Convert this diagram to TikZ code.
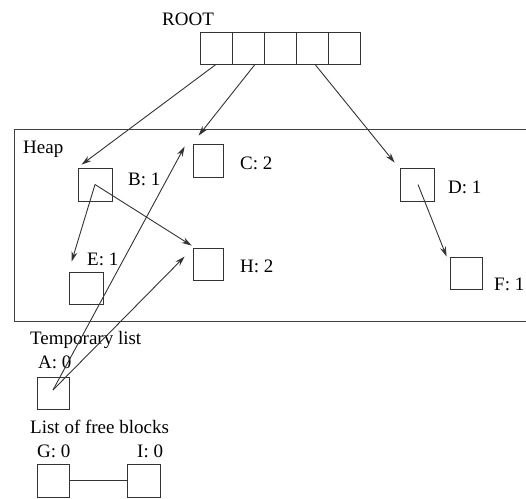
\documentclass[tikz,border=0pt]{standalone}
\usepackage{fontspec}
\setmainfont{Liberation Serif}
\usetikzlibrary{calc,arrows.meta}
\begin{document}
\begin{tikzpicture}[x=1pt,y=-1pt,
  cell/.style={draw=black!80,line width=0.8pt,minimum width=32pt,minimum height=32pt,inner sep=0pt,anchor=center},
  lbl/.style={anchor=base west,inner sep=0pt,font=\fontsize{19}{21}\selectfont},
  ptr/.style={draw=black!80,line width=0.9pt,-{Stealth[length=10pt,width=6pt]}},
  frame/.style={draw=black!75,line width=0.9pt}]
\useasboundingbox (0,0) rectangle (526,498);
% root array
\foreach \i/\x in {1/216,2/248,3/280,4/312,5/344}{
  \node[cell] (r\i) at (\x,48) {};
}
\node[lbl] (rootlbl) at (162,25) {ROOT};
% heap frame
\coordinate (h1) at (526,129);
\coordinate (h2) at (14,129);
\coordinate (h3) at (14,321);
\coordinate (h4) at (526,321);
\draw[frame] (h1) -- (h2) -- (h3) -- (h4);
\node[lbl] (heaplbl) at (23,153) {Heap};
% heap blocks
\node[cell,minimum width=34pt,minimum height=33pt] (B) at (95,184.5) {};
\node[cell,minimum width=30pt,minimum height=33pt] (C) at (208,160.5) {};
\node[cell,minimum width=34pt] (E) at (86,288) {};
\node[cell,minimum width=30pt] (H) at (208,264) {};
\node[cell,minimum width=34pt,minimum height=33pt] (D) at (417,184.5) {};
\node[cell] (F) at (466,273) {};
\node[lbl] (Bl) at (128,185) {B: 1};
\node[lbl] (Cl) at (240,169) {C: 2};
\node[lbl] (El) at (87,265) {E: 1};
\node[lbl] (Hl) at (240,272) {H: 2};
\node[lbl] (Dl) at (448,193) {D: 1};
\node[lbl] (Fl) at (494,290) {F: 1};
% temporary list
\node[lbl] (tl) at (30,344) {Temporary list};
\node[lbl] (Al) at (38,368) {A: 0};
\node[cell] (A) at (53,393) {};
% free list
\node[lbl] (fl) at (30,433) {List of free blocks};
\node[lbl] (Gl) at (37,457) {G: 0};
\node[lbl] (Il) at (137,457) {I: 0};
\node[cell,minimum height=33pt] (G) at (53,480.5) {};
\node[cell,minimum width=33pt,minimum height=33pt] (I) at (143.5,480.5) {};
\draw[draw=black!80,line width=0.8pt] (G.east) -- (I.west);
% pointers
\draw[ptr] (r1.south) -- ($(B.north west)+(4,-3)$);
\draw[ptr] ($(r2.south)+(7,0)$) -- ($(C.north west)+(6,-8)$);
\draw[ptr] ($(r4.south)+(3,0)$) -- ($(D.north west)+(-5,-5)$);
\draw[ptr] (B.center) -- ($(E.north west)+(3,-10)$);
\draw[ptr] (B.center) -- ($(H.north west)+(-1,-2)$);
\draw[ptr] ($(A.center)+(0,-3)$) -- ($(C.north west)+(-8,3)$);
\draw[ptr] ($(A.center)+(0,-3)$) -- ($(H.north west)+(-8,9)$);
\draw[ptr] ($(D.center)+(1,0)$) -- ($(F.north west)+(-3,0)$);
\end{tikzpicture}
\end{document}
